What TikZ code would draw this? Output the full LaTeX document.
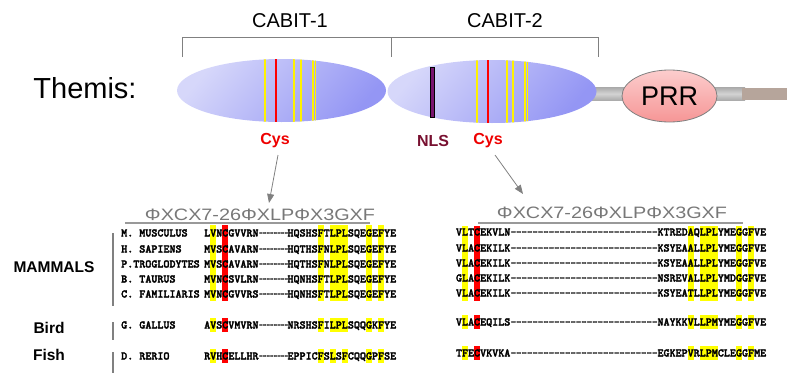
\documentclass[tikz,border=0pt]{standalone}
\usepackage{fontspec}
\setmainfont{Liberation Sans}
\newfontfamily\seqfont{lmmonolt10-bold}[Extension=.otf, FakeBold=2.5]
\usetikzlibrary{arrows.meta,shapes.geometric}
\definecolor{domlight}{RGB}{214,215,250}
\definecolor{domdark}{RGB}{148,150,244}
\definecolor{prrlight}{RGB}{252,205,205}
\definecolor{prrdark}{RGB}{246,150,150}
\definecolor{bracketgray}{RGB}{128,128,128}
\definecolor{motifgray}{RGB}{120,120,120}
\definecolor{nlscol}{RGB}{120,16,48}
\definecolor{cysred}{RGB}{238,0,0}
\definecolor{barbrown}{RGB}{182,165,155}
\definecolor{nlsfill}{RGB}{120,20,110}
\definecolor{hlyellow}{RGB}{255,255,0}
\tikzset{
  dombox/.style={ellipse, minimum width=209pt, minimum height=63pt, inner sep=0pt,
    top color=domlight, bottom color=domdark, shading angle=50},
  prrbox/.style={ellipse, minimum width=95pt, minimum height=52pt, inner sep=0pt,
    top color=prrlight, bottom color=prrdark, draw=gray, line width=0.8pt,
    font=\fontsize{27}{30}\selectfont},
  bigtitle/.style={inner sep=0pt, font=\fontsize{29}{32}\selectfont},
  titletext/.style={inner sep=0pt, font=\fontsize{20}{24}\selectfont},
  sitelbl/.style={inner sep=0pt, font=\fontsize{16}{19}\selectfont\bfseries},
  grouplbl/.style={inner sep=0pt, font=\fontsize{15.5}{18}\selectfont\bfseries},
  motiftext/.style={inner sep=0pt, text=motifgray, font=\fontsize{16.5}{19}\selectfont, xscale=1.2},
  seqtext/.style={inner sep=0pt, anchor=west, text height=7pt, text depth=0pt,
    font=\fontsize{11.5}{12}\selectfont\seqfont},
  dashrow/.style={seqtext, xscale=#1},
  hly/.style={fill=hlyellow},
  hlr/.style={fill=red},
  bracketline/.style={draw=bracketgray, line width=1pt},
  grpline/.style={draw=bracketgray, line width=1.2pt},
  motifline/.style={draw=gray!80, line width=1.5pt},
  arr/.style={draw=gray, line width=0.8pt, -{Triangle[length=9pt,width=7pt]}},
  thinY/.style={draw=yellow, line width=1.2pt},
  thickY/.style={draw=yellow, line width=2.6pt},
  redL/.style={draw=red, line width=2pt}
}
\newcommand{\hlbox}[5]{\fill[#1] ({#2+(#3-1)*6.04},#4) rectangle ++(6.04,#5);}
\begin{document}
\begin{tikzpicture}[x=1pt,y=-1pt]
\useasboundingbox (0,0) rectangle (800,383);

% backbone bar
\shade[top color=gray!65, bottom color=gray!65, middle color=gray!35] (590,87.5) rectangle (745,100);
\fill[barbrown] (742,87.5) rectangle (787,100);

% domains
\node[dombox] (dom1) at (281.5,90.5) {};
\node[dombox] (dom2) at (492,91.5) {};
\begin{scope}
  \clip (281.5,90.5) ellipse [x radius=104.5, y radius=31.5];
  \draw[thinY] (265,50) -- (265,130);
  \draw[redL] (276,50) -- (276,130);
  \draw[thinY] (294,50) -- (294,130);
  \draw[thickY] (301,50) -- (301,130);
  \draw[thinY] (313,50) -- (313,130);
  \draw[thinY] (315.5,50) -- (315.5,130);
\end{scope}
\begin{scope}
  \clip (492,91.5) ellipse [x radius=104.5, y radius=31.5];
  \draw[thinY] (477,50) -- (477,130);
  \draw[redL] (488,50) -- (488,130);
  \draw[thinY] (507,50) -- (507,130);
  \draw[thickY] (513,50) -- (513,130);
  \draw[thinY] (525,50) -- (525,130);
  \draw[thinY] (527.5,50) -- (527.5,130);
\end{scope}
\fill[nlsfill, draw=black, line width=1pt] (430,67) rectangle (434.5,117);

\node[prrbox] (prr) at (669.5,96) {PRR};

% titles
\node[bigtitle] (themis) at (85,88) {Themis:};
\node[titletext] (cabit1) at (290,21) {CABIT-1};
\node[titletext] (cabit2) at (505,21) {CABIT-2};
\draw[bracketline] (182,57) -- (182,37) -- (598,37) -- (598,57);
\draw[bracketline] (391,37) -- (391,57);

% site labels
\node[sitelbl, text=cysred] (cys1) at (275,141) {Cys};
\node[sitelbl, text=nlscol] (nls) at (433,141) {NLS};
\node[sitelbl, text=cysred] (cys2) at (488,141) {Cys};

% motifs
\node[motiftext] (motif1) at (260,214.5) {ΦXCX7-26ΦXLPΦX3GXF};
\node[motiftext] (motif2) at (612,212.5) {ΦXCX7-26ΦXLPΦX3GXF};
\coordinate (ul1a) at (125,223); \coordinate (ul1b) at (370,223);
\coordinate (ul2a) at (478,223); \coordinate (ul2b) at (743,223);
\draw[motifline] (ul1a) -- (ul1b);
\draw[motifline] (ul2a) -- (ul2b);

% arrows
\coordinate (a1s) at (278,155); \coordinate (a1e) at (269,203);
\coordinate (a2s) at (495,155); \coordinate (a2e) at (523,194);
\draw[arr] (a1s) -- (a1e);
\draw[arr] (a2s) -- (a2e);

% highlights left
\hlbox{hly}{204}{2}{225}{76}
\hlbox{hlr}{204}{4}{225}{76}
\foreach \c in {6,8,9,10,14,16}{\hlbox{hly}{287.3}{\c}{225}{76}}
\hlbox{hly}{204}{2}{318}{14}
\hlbox{hlr}{204}{4}{318}{14}
\foreach \c in {6,8,9,10,14,16}{\hlbox{hly}{287.3}{\c}{318}{14}}
\hlbox{hly}{204}{2}{349}{14}
\hlbox{hlr}{204}{4}{349}{14}
\foreach \c in {6,8,10,14,16}{\hlbox{hly}{287.3}{\c}{349}{14}}
% highlights right
\hlbox{hly}{455.8}{2}{225.5}{75}
\hlbox{hlr}{455.8}{4}{225.5}{75}
\foreach \c in {6,8,9,10,14,16}{\hlbox{hly}{657.3}{\c}{225.5}{75}}
\hlbox{hly}{455.8}{2}{315}{14}
\hlbox{hlr}{455.8}{4}{315}{14}
\foreach \c in {6,8,9,10,14,16}{\hlbox{hly}{657.3}{\c}{315}{14}}
\hlbox{hly}{455.8}{2}{346}{14}
\hlbox{hlr}{455.8}{4}{346}{14}
\foreach \c in {6,8,9,10,14,16}{\hlbox{hly}{657.3}{\c}{346}{14}}

% group labels and lines
\node[grouplbl] (mammals) at (54,267) {MAMMALS};
\node[grouplbl] (bird) at (49,328) {Bird};
\node[grouplbl] (fish) at (49,355) {Fish};
\draw[grpline] (113,233) -- (113,306);
\draw[grpline] (113,322) -- (113,340);
\draw[grpline] (113,352) -- (113,373);

% left alignment
\foreach \y/\sp/\pre/\suf/\n in {
  233/M. MUSCULUS/LVNCGVVRN/HQSHSFTLPLSQEGEFYE/1,
  249/H. SAPIENS/MVSCAVARN/HQTHSFNLPLSQEGEFYE/2,
  264/P.TROGLODYTES/MVSCAVARN/HQTHSFNLPLSQEGEFYE/3,
  279/B. TAURUS/MVNCSVLRN/HQNHSFTLPLSQEGEFYE/4,
  294/C. FAMILIARIS/MVNCGVVRS/HQNHSFTLPLSQEGEFYE/5,
  325/G. GALLUS/AVSCVMVRN/NRSHSFILPLSQQGKFYE/6,
  356/D. RERIO/RVHCELLHR/EPPICFSLSFCQQGPFSE/7}{
  \node[seqtext] (sp\n) at (121,\y) {\sp};
  \node[seqtext] (lpre\n) at (204,\y) {\pre};
  \node[dashrow=0.6] (ldash\n) at (259,\y) {--------};
  \node[seqtext] (lsuf\n) at (287.3,\y) {\suf};
}
% right alignment
\foreach \y/\pre/\suf/\n in {
  232/VLTCEKVLN/KTREDAQLPLYMEGGFVE/1,
  248/VLACEKILK/KSYEAALLPLYMEGGFVE/2,
  263/VLACEKILK/KSYEAALLPLYMEGGFVE/3,
  278/GLACEKILK/NSREVALLPLYMDGGFVE/4,
  293/VLACEKILK/KSYEATLLPLYMEGGFVE/5,
  322/VLACEQILS/NAYKKVLLPMYMEGGFVE/6,
  353/TFECVKVKA/EGKEPVRLPMCLEGGFME/7}{
  \node[seqtext] (rpre\n) at (455.8,\y) {\pre};
  \node[dashrow=0.9] (rdash\n) at (510.5,\y) {---------------------------};
  \node[seqtext] (rsuf\n) at (657.3,\y) {\suf};
}
\end{tikzpicture}
\end{document}
